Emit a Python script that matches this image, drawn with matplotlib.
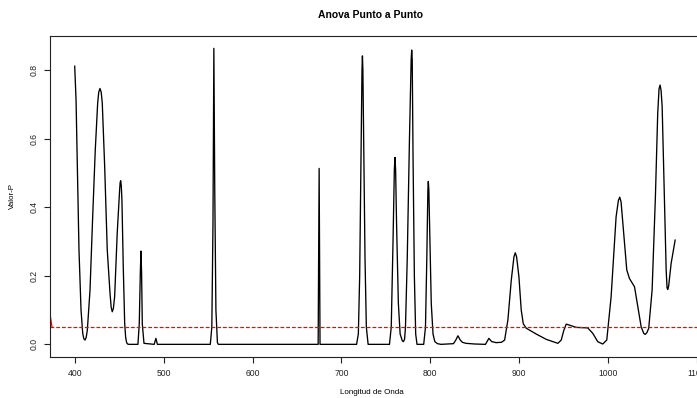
import matplotlib
matplotlib.use("Agg")
import matplotlib.pyplot as plt
import numpy as np

plt.rcParams['font.family'] = ['Liberation Sans', 'DejaVu Sans']

# p-values, point by point
wavelength = [400, 401.5, 403, 404.8, 407.1, 409, 410.3, 411.6, 412.9, 414.2,
              417.2, 420.2, 423.1, 425.8, 427, 428.4, 429.8, 431, 433.7, 436.6,
              439.7, 441, 442.2, 443.5, 444.9, 447.8, 450.5, 451.1, 451.7, 452.4,
              453.1, 454.6, 456.2, 457.3, 458.4, 459.5, 461, 471.1, 472.6, 473.8,
              474.5, 475.2, 476, 477.9, 489.4, 491.3, 493, 552.5, 554.2, 555.5,
              556.5, 557.5, 558.8, 560.5, 561.5, 673.8, 674.9, 675.9, 717, 719,
              720.5, 722, 723.1, 723.6, 724.1, 725, 726.5, 728, 730, 754,
              756, 758, 759.5, 760.2, 760.9, 762, 764, 766, 768.5, 769.7,
              771, 772, 774, 776.5, 778.4, 779, 779.6, 780.5, 782, 783.5,
              785, 792.5, 794.5, 796, 797.2, 797.7, 798.3, 799.5, 801, 803,
              805, 808, 812, 826, 828.5, 831, 833.5, 836, 840, 850,
              862, 865.8, 869, 874, 880, 883.5, 887.2, 891, 894, 895.5,
              897, 899.6, 902.2, 904.5, 907.9, 919.1, 930.3, 943.4, 947.2, 950,
              952.8, 956.5, 964, 977, 982.7, 988.3, 993.9, 998.4, 1003.3, 1008.9,
              1011.5, 1013, 1014.5, 1017.2, 1020.9, 1023.9, 1029.6, 1033.3, 1037.1, 1040,
              1041.6, 1043.5, 1045.6, 1049.4, 1053.1, 1055.7, 1057.2, 1058.4, 1059.5, 1060.7,
              1063.3, 1065.2, 1066.2, 1067, 1068, 1070.8, 1075.3]
pvalue = [0.811, 0.712, 0.518, 0.275, 0.10, 0.032, 0.016, 0.0125, 0.02, 0.042,
          0.158, 0.372, 0.566, 0.703, 0.735, 0.746, 0.735, 0.703, 0.518, 0.275,
          0.149, 0.108, 0.095, 0.105, 0.139, 0.324, 0.45, 0.472, 0.477, 0.462,
          0.421, 0.226, 0.061, 0.02, 0.005, 0.001, 0.0, 0.0, 0.06, 0.21,
          0.272, 0.21, 0.06, 0.003, 0.0, 0.0175, 0.0, 0.0, 0.05, 0.35,
          0.863, 0.45, 0.1, 0.005, 0.0, 0.0, 0.513, 0.0, 0.0, 0.03,
          0.2, 0.55, 0.8, 0.841, 0.8, 0.6, 0.25, 0.05, 0.0, 0.0,
          0.05, 0.3, 0.51, 0.545, 0.51, 0.35, 0.12, 0.03, 0.01, 0.008,
          0.015, 0.05, 0.25, 0.6, 0.83, 0.858, 0.83, 0.55, 0.2, 0.03,
          0.0, 0.0, 0.05, 0.25, 0.45, 0.475, 0.45, 0.3, 0.12, 0.03,
          0.008, 0.002, 0.0, 0.002, 0.012, 0.025, 0.013, 0.006, 0.003, 0.001,
          0.0, 0.0175, 0.008, 0.005, 0.006, 0.0125, 0.071, 0.187, 0.255, 0.267,
          0.255, 0.197, 0.10, 0.06, 0.047, 0.030, 0.0146, 0.003, 0.0125, 0.04,
          0.059, 0.056, 0.0495, 0.048, 0.032, 0.0076, 0.001, 0.0125, 0.139, 0.372,
          0.42, 0.429, 0.415, 0.333, 0.217, 0.192, 0.168, 0.110, 0.051, 0.032,
          0.029, 0.034, 0.047, 0.158, 0.430, 0.673, 0.745, 0.756, 0.74, 0.693,
          0.411, 0.217, 0.165, 0.160, 0.17, 0.236, 0.304]

alpha = 0.05
# short red lead-in entering from the left edge
thr_x = [368, 374.5]
thr_y = [0.16, 0.05]

xticks = [400, 500, 600, 700, 800, 900, 1000, 1100]
yticks = [0.0, 0.2, 0.4, 0.6, 0.8]

fig = plt.figure(figsize=(6.97, 3.98), dpi=100)
ax = fig.add_axes([50 / 697, 41.3 / 398, 649.5 / 697, 320.7 / 398])

ax.plot(wavelength, pvalue, color='black', lw=0.95, solid_joinstyle='round')
ax.axhline(alpha, color='#FF0000', lw=0.9, linestyle=(0, (3, 1.6)))
ax.plot(thr_x, thr_y, color='#FF0000', lw=0.9)

ax.set_xlim(372.2, 1102.7)
ax.set_ylim(-0.036, 0.899)
ax.set_xticks(xticks)
ax.set_xticklabels([str(t) for t in xticks])
ax.set_yticks(yticks)
ax.set_yticklabels(['%.1f' % t for t in yticks], rotation=90, va='center')
ax.tick_params(axis='both', direction='out', length=4, width=0.8,
               labelsize=6.2, colors='#222222')
ax.tick_params(axis='x', pad=5)
ax.tick_params(axis='y', pad=4)
for s in ax.spines.values():
    s.set_linewidth(0.8)
    s.set_color('#222222')

ax.set_xlabel('Longitud de Onda', fontsize=5.8)
ax.xaxis.set_label_coords((372 - 50) / 649.5, -0.1)
ax.set_ylabel('Valor-P', fontsize=5.8)
ax.yaxis.set_label_coords((16 - 50) / 649.5, 0.5)
ax.text((371 - 50) / 649.5, 1.065, 'Anova Punto a Punto', transform=ax.transAxes,
        ha='center', va='center', fontsize=7.5, fontweight='bold')

fig.savefig('out.png', dpi=100)
